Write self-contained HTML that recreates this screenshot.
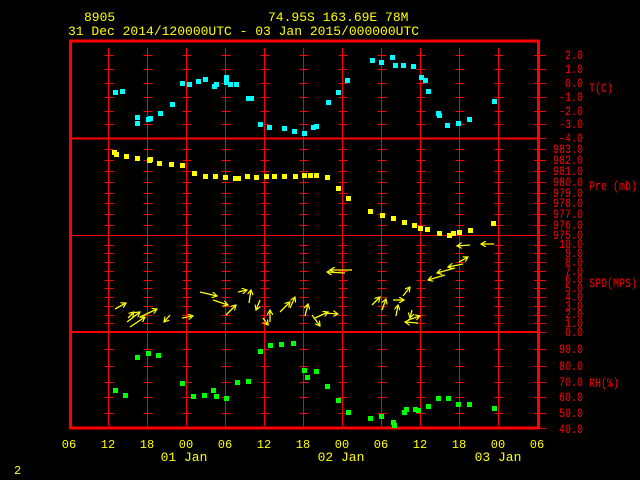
<!DOCTYPE html>
<html><head><meta charset="utf-8"><style>
html,body{margin:0;padding:0;background:#000;width:640px;height:480px;overflow:hidden}
svg{display:block}
.t{font-family:"Liberation Mono",monospace;fill:#ff0000;font-size:12.5px}
.y{font-family:"Liberation Mono",monospace;fill:#ffff00}
</style></head><body>
<svg id="s" width="640" height="480" xmlns="http://www.w3.org/2000/svg">
<defs><marker id="ah" markerWidth="6" markerHeight="6" refX="5" refY="3" orient="auto" markerUnits="userSpaceOnUse"><path d="M0,0 L5,3 L0,6" fill="none" stroke="#ffff00" stroke-width="1.2"/></marker></defs>
<g id="grid"></g>
<rect x="70.5" y="41" width="468" height="387" fill="none" stroke="#ff0000" stroke-width="3"/>
<line x1="70" y1="138.5" x2="540" y2="138.5" stroke="#ff0000" stroke-width="2"/>
<line x1="70" y1="235.5" x2="540" y2="235.5" stroke="#ff0000" stroke-width="1"/>
<line x1="70" y1="332" x2="540" y2="332" stroke="#ff0000" stroke-width="2"/>
<g class="y" font-size="13">
<text x="84" y="21">8905</text>
<text x="268" y="21">74.95S  163.69E   78M</text>
<text x="68" y="35">31 Dec 2014/120000UTC - 03 Jan 2015/000000UTC</text>
</g>
<g class="y" font-size="12" text-anchor="middle">
<text x="69" y="448">06</text><text x="108" y="448">12</text><text x="147" y="448">18</text><text x="186" y="448">00</text><text x="225" y="448">06</text><text x="264" y="448">12</text><text x="303" y="448">18</text><text x="342" y="448">00</text><text x="381" y="448">06</text><text x="420" y="448">12</text><text x="459" y="448">18</text><text x="498" y="448">00</text><text x="537" y="448">06</text>
</g>
<g class="y" font-size="13" text-anchor="middle">
<text x="184" y="461">01 Jan</text><text x="341" y="461">02 Jan</text><text x="498" y="461">03 Jan</text>
</g>
<text class="y" x="14" y="474" font-size="12">2</text>
<g class="t" id="rl" text-anchor="end">
<text x="583" y="59">2.0</text><text x="583" y="73">1.0</text><text x="583" y="87">0.0</text><text x="583" y="101">-1.0</text><text x="583" y="115">-2.0</text><text x="583" y="128">-3.0</text><text x="583" y="142">-4.0</text>
<text x="583" y="153">983.0</text><text x="583" y="164">982.0</text><text x="583" y="175">981.0</text><text x="583" y="186">980.0</text><text x="583" y="197">979.0</text><text x="583" y="207">978.0</text><text x="583" y="218">977.0</text><text x="583" y="229">976.0</text><text x="583" y="239">975.0</text>
<text x="583" y="248">10.0</text><text x="583" y="257">9.0</text><text x="583" y="266">8.0</text><text x="583" y="275">7.0</text><text x="583" y="283">6.0</text><text x="583" y="292">5.0</text><text x="583" y="301">4.0</text><text x="583" y="310">3.0</text><text x="583" y="318">2.0</text><text x="583" y="327">1.0</text><text x="583" y="336">0.0</text>
<text x="583" y="353">90.0</text><text x="583" y="370">80.0</text><text x="583" y="386">70.0</text><text x="583" y="401">60.0</text><text x="583" y="417">50.0</text><text x="583" y="433">40.0</text>
</g>
<g class="t" id="nl">
<text x="589" y="92">T(C)</text><text x="589" y="190">Pre (mb)</text><text x="589" y="287">SPD(MPS)</text><text x="589" y="387">RH(%)</text>
</g>
<g id="pts"></g>
<g id="arr" stroke="#ffff00" stroke-width="1.3" marker-end="url(#ah)"></g>
</svg>
<script>
var NS="http://www.w3.org/2000/svg";
function el(p,n,a){var e=document.createElementNS(NS,n);for(var k in a)e.setAttribute(k,a[k]);p.appendChild(e);return e;}
document.querySelectorAll('#rl text, #nl text').forEach(function(t){t.setAttribute('textLength',t.textContent.length*6);t.setAttribute('lengthAdjust','spacingAndGlyphs');});
var g=document.getElementById('grid');
var ticks=[55,69,83,97,111,124,149,160,171,182,193,203,214,225,245,253,262,271,280,288,297,306,315,323,349,366,382,397,413];
for(var i=0;i<11;i++){var x=108.5+39*i;
 el(g,'line',{x1:x,y1:48,x2:x,y2:426,stroke:'#ff0000','stroke-width':1});
 ticks.forEach(function(y){el(g,'line',{x1:x-4,y1:y+.5,x2:x+5,y2:y+.5,stroke:'#ff0000','stroke-width':1});});}
ticks.concat([138,235,332,428]).forEach(function(y){el(g,'line',{x1:534,y1:y+.5,x2:546,y2:y+.5,stroke:'#ff0000','stroke-width':1});});
var p=document.getElementById('pts');
function sq(arr,c){arr.forEach(function(q){el(p,'rect',{x:q[0]-2,y:q[1]-2,width:5,height:5,fill:c});});}
sq([[115,92],[122,91],[137,117],[137,123],[148,119],[150,118],[160,113],[172,104],[182,83],[189,84],[198,81],[205,79],[214,86],[216,84],[226,77],[226,82],[230,84],[236,84],[248,98],[251,98],[260,124],[269,127],[284,128],[294,131],[304,133],[313,127],[316,126],[328,102],[338,92],[347,80],[372,60],[381,62],[392,57],[395,65],[403,65],[413,66],[421,77],[425,80],[428,91],[438,113],[439,115],[447,125],[458,123],[469,119],[494,101]],'#00ffff');
sq([[114,152],[116,154],[126,156],[137,158],[149,160],[150,159],[159,163],[171,164],[182,165],[194,173],[205,176],[215,176],[225,177],[235,178],[238,178],[247,176],[256,177],[266,176],[274,176],[284,176],[295,176],[304,175],[310,175],[316,175],[327,177],[338,188],[348,198],[370,211],[382,215],[393,218],[404,222],[414,225],[420,228],[427,229],[439,233],[449,235],[453,233],[459,232],[470,230],[493,223]],'#ffff00');
sq([[115,390],[125,395],[137,357],[148,353],[158,355],[182,383],[193,396],[204,395],[213,390],[216,396],[226,398],[237,382],[248,381],[260,351],[270,345],[281,344],[293,343],[304,370],[307,377],[316,371],[327,386],[338,400],[348,412],[370,418],[381,416],[393,422],[394,425],[404,412],[406,409],[415,409],[418,410],[428,406],[438,398],[448,398],[458,404],[469,404],[494,408]],'#00ff00');
var a=document.getElementById('arr');
[[115,309,126,303],[127,322,140,312],[128,318,134,312],[130,327,145,317],[140,317,157,309],[170,315,164,322],[182,318,193,316],
[200,292,217,296],[213,300,228,305],[226,315,236,305],[238,292,247,290],[249,303,251,290],[260,300,256,310],[263,318,268,325],[270,322,270,310],[280,312,290,302],[290,308,295,297],[305,316,308,304],[312,315,320,326],[315,318,328,312],[325,313,338,314],[352,270,330,270],[345,273,327,272],
[372,305,380,297],[382,310,386,299],[396,316,398,305],[393,300,404,300],[403,296,410,287],[408,320,420,316],[412,310,410,318],[418,323,405,322],
[445,275,428,280],[455,268,437,273],[463,264,448,267],[459,262,468,257],[470,245,457,246],[494,244,481,244]].forEach(function(q){
 el(a,'line',{x1:q[0],y1:q[1],x2:q[2],y2:q[3]});});
</script>
</body></html>
